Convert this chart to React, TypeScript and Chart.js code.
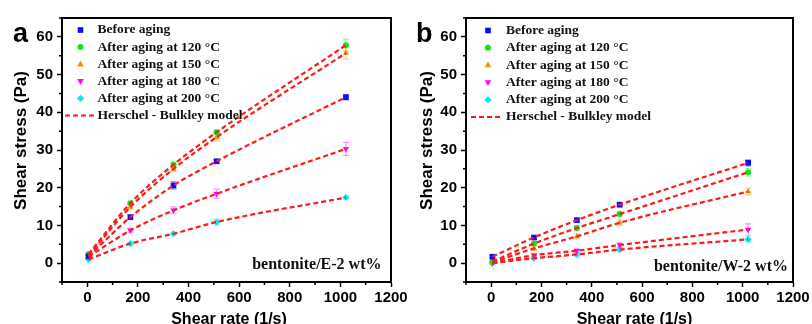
import React, { useEffect, useRef } from 'react';
import { Chart, registerables } from 'chart.js';

Chart.register(...registerables);

// ---------- data ----------
const shearRate = [5.11, 170.3, 340.6, 510.9, 1021.8];
const seriesNames = [
  'Before aging',
  'After aging at 120 °C',
  'After aging at 150 °C',
  'After aging at 180 °C',
  'After aging at 200 °C',
];
const modelName = 'Herschel - Bulkley model';
const xTicks = [0, 200, 400, 600, 800, 1000, 1200];
const xMinorTicks = [-100, 100, 300, 500, 700, 900, 1100];
const yTicks = [0, 10, 20, 30, 40, 50, 60];
const yMinorTicks = [-5, 5, 15, 25, 35, 45, 55, 65];

// panel a: bentonite/E-2 wt%
const aBefore = [1.8, 12.2, 20.6, 27.0, 44.0];
const a120 = [2.4, 15.9, 26.1, 34.7, 57.8];
const a150 = [2.0, 14.9, 25.0, 33.4, 55.7];
const a180 = [1.7, 8.7, 14.0, 18.4, 30.3];
const a200 = [1.0, 5.2, 7.8, 10.9, 17.4];
const aBeforeErr = [0.4, 0.5, 1.0, 0.5, 0.7];
const a120Err = [0.4, 0.5, 0.6, 0.6, 1.6];
const a150Err = [0.4, 0.6, 0.7, 1.0, 1.6];
const a180Err = [0.3, 0.5, 0.9, 1.2, 1.7];
const a200Err = [0.3, 0.4, 0.4, 0.7, 0.5];

// panel b: bentonite/W-2 wt%
const bBefore = [1.7, 6.8, 11.4, 15.5, 26.6];
const b120 = [0.4, 5.2, 9.3, 13.0, 24.1];
const b150 = [0.2, 3.9, 7.1, 10.7, 19.0];
const b180 = [0.0, 2.1, 3.3, 4.8, 8.9];
const b200 = [0.0, 1.3, 2.3, 3.6, 6.3];
const bBeforeErr = [0.4, 0.4, 0.5, 0.5, 0.8];
const b120Err = [0.4, 0.5, 0.6, 0.6, 1.0];
const b150Err = [0.3, 0.5, 0.7, 0.7, 0.9];
const b180Err = [0.3, 0.4, 0.5, 0.6, 1.5];
const b200Err = [0.3, 0.3, 0.5, 0.5, 0.6];

// ---------- styles ----------
const colors = ['#0a0aff', '#11e611', '#ff8c00', '#ff00ff', '#00eaff'];
const errColors = ['rgba(10,10,255,0.45)', 'rgba(17,230,17,0.45)', 'rgba(255,140,0,0.45)', 'rgba(255,0,255,0.45)', 'rgba(0,234,255,0.45)'];
const pointStyles = ['rect', 'circle', 'triangle', 'triangle', 'rectRot'];
const pointRotations = [0, 0, 0, 180, 0];
const pointRadii = [4, 3, 3.6, 3.6, 3.6];
const fitColor = '#ff1a1a';
const SANS = '"Liberation Sans", Arial, sans-serif';
const SERIF = '"Liberation Serif", "Times New Roman", serif';

type PanelProps = {
  letter: string;
  series: number[][];
  errors: number[][];
  note: string;
  left: number;
  canvasWidth: number;
  axisWidth: number;
  padRight: number;
  legendSymX: number;
  legendTextX: number;
  legendLineX0: number;
  legendLineX1: number;
  legendY0: number;
  legendDy: number;
  noteRight: number;
  noteY: number;
  xTitleX: number;
};

const CANVAS_H = 340;
const PLOT_TOP = 18;
const PLOT_BOTTOM = 282;

function drawSymbol(ctx: CanvasRenderingContext2D, i: number, x: number, y: number) {
  ctx.save();
  ctx.fillStyle = colors[i];
  ctx.beginPath();
  if (i === 0) {
    ctx.rect(x - 2.8, y - 2.8, 5.6, 5.6);
  } else if (i === 1) {
    ctx.arc(x, y, 3, 0, Math.PI * 2);
  } else if (i === 2) {
    ctx.moveTo(x, y - 3.6);
    ctx.lineTo(x + 3.3, y + 2.2);
    ctx.lineTo(x - 3.3, y + 2.2);
    ctx.closePath();
  } else if (i === 3) {
    ctx.moveTo(x, y + 3.6);
    ctx.lineTo(x + 3.3, y - 2.2);
    ctx.lineTo(x - 3.3, y - 2.2);
    ctx.closePath();
  } else {
    ctx.moveTo(x, y - 3.6);
    ctx.lineTo(x + 3.6, y);
    ctx.lineTo(x, y + 3.6);
    ctx.lineTo(x - 3.6, y);
    ctx.closePath();
  }
  ctx.fill();
  ctx.restore();
}

function Panel(p: PanelProps) {
  const ref = useRef<HTMLCanvasElement | null>(null);

  useEffect(() => {
    const canvas = ref.current;
    if (!canvas) return;
    const n = p.series.length;

    const fitSets = p.series.map((vals, i) => ({
      label: modelName + ' ' + i,
      data: shearRate.map((x, j) => ({ x, y: vals[j] })),
      showLine: true,
      borderColor: fitColor,
      backgroundColor: fitColor,
      borderWidth: 2.2,
      borderDash: [5, 3],
      pointRadius: 0,
      cubicInterpolationMode: 'monotone' as const,
      fill: false,
      order: 0,
    }));
    const markerSets = p.series.map((vals, i) => ({
      label: seriesNames[i],
      data: shearRate.map((x, j) => ({ x, y: vals[j] })),
      showLine: false,
      pointStyle: pointStyles[i],
      rotation: pointRotations[i],
      pointRotation: pointRotations[i],
      pointRadius: pointRadii[i],
      backgroundColor: colors[i],
      borderColor: colors[i],
      borderWidth: 0,
      order: 1,
    }));

    const panelPlugin = {
      id: 'panelDecor',
      beforeDatasetsDraw(chart: any) {
        const ctx: CanvasRenderingContext2D = chart.ctx;
        const yScale = chart.scales.y;
        ctx.save();
        ctx.lineWidth = 1.2;
        for (let i = 0; i < n; i++) {
          const meta = chart.getDatasetMeta(n + i);
          ctx.strokeStyle = errColors[i];
          meta.data.forEach((el: any, j: number) => {
            const v = p.series[i][j];
            const e = p.errors[i][j];
            const yt = yScale.getPixelForValue(v + e);
            const yb = yScale.getPixelForValue(v - e);
            ctx.beginPath();
            ctx.moveTo(el.x, yt);
            ctx.lineTo(el.x, yb);
            ctx.moveTo(el.x - 3, yt);
            ctx.lineTo(el.x + 3, yt);
            ctx.moveTo(el.x - 3, yb);
            ctx.lineTo(el.x + 3, yb);
            ctx.stroke();
          });
        }
        ctx.restore();
      },
      afterDraw(chart: any) {
        const ctx: CanvasRenderingContext2D = chart.ctx;
        const a = chart.chartArea;
        const xs = chart.scales.x;
        const ys = chart.scales.y;
        ctx.save();
        // frame top & right
        ctx.strokeStyle = '#000';
        ctx.lineWidth = 2;
        ctx.beginPath();
        ctx.moveTo(a.left, a.top);
        ctx.lineTo(a.right, a.top);
        ctx.lineTo(a.right, a.bottom);
        ctx.stroke();
        // minor ticks
        ctx.lineWidth = 1.5;
        ctx.beginPath();
        yMinorTicks.forEach((v) => {
          const y = ys.getPixelForValue(v);
          ctx.moveTo(a.left - 3, y);
          ctx.lineTo(a.left, y);
        });
        xMinorTicks.forEach((v) => {
          const x = xs.getPixelForValue(v);
          ctx.moveTo(x, a.bottom);
          ctx.lineTo(x, a.bottom + 3);
        });
        ctx.stroke();

        // legend
        ctx.font = `bold 13.5px ${SERIF}`;
        ctx.textBaseline = 'middle';
        ctx.textAlign = 'left';
        ctx.fillStyle = '#111';
        for (let i = 0; i < n; i++) {
          const y = p.legendY0 + i * p.legendDy;
          drawSymbol(ctx, i, p.legendSymX, y);
          ctx.fillStyle = '#111';
          ctx.fillText(seriesNames[i], p.legendTextX, y);
        }
        const ly = p.legendY0 + n * p.legendDy;
        ctx.strokeStyle = fitColor;
        ctx.lineWidth = 2.2;
        ctx.setLineDash([5, 3]);
        ctx.beginPath();
        ctx.moveTo(p.legendLineX0, ly);
        ctx.lineTo(p.legendLineX1, ly);
        ctx.stroke();
        ctx.setLineDash([]);
        ctx.fillText(modelName, p.legendTextX, ly);

        // note
        ctx.font = `bold 16px ${SERIF}`;
        ctx.textAlign = 'right';
        ctx.fillText(p.note, p.noteRight, p.noteY);

        // panel letter
        ctx.font = `bold 27px ${SANS}`;
        ctx.textAlign = 'left';
        ctx.textBaseline = 'alphabetic';
        ctx.fillStyle = '#000';
        ctx.fillText(p.letter, p.letter === 'a' ? 13 : 10, 42);

        // axis titles
        ctx.font = `bold 16px ${SANS}`;
        ctx.textAlign = 'center';
        ctx.fillText('Shear rate (1/s)', p.xTitleX, 323.5);
        ctx.save();
        ctx.translate(25.5, 140.5);
        ctx.rotate(-Math.PI / 2);
        ctx.font = `bold 17px ${SANS}`;
        ctx.fillText('Shear stress (Pa)', 0, 0);
        ctx.restore();
        ctx.restore();
      },
    };

    const tickFont = { family: SANS, size: 15, weight: 'bold' as const };
    const chart = new Chart(canvas, {
      type: 'scatter',
      data: { datasets: [...fitSets, ...markerSets] as any },
      options: {
        responsive: false,
        animation: false,
        events: [],
        layout: { padding: { left: 0, right: p.padRight, top: PLOT_TOP, bottom: 0 } },
        plugins: { legend: { display: false }, tooltip: { enabled: false } },
        scales: {
          x: {
            type: 'linear',
            min: -100,
            max: 1200,
            afterBuildTicks: (s: any) => {
              s.ticks = xTicks.map((v) => ({ value: v }));
            },
            afterFit: (s: any) => {
              s.height = CANVAS_H - PLOT_BOTTOM;
            },
            grid: { drawOnChartArea: false, drawTicks: true, tickLength: 5, tickWidth: 1.5, tickColor: '#000' },
            border: { display: true, color: '#000', width: 2 },
            ticks: {
              color: '#000',
              font: tickFont,
              padding: 2,
              maxRotation: 0,
              autoSkip: false,
              callback: (v: any) => String(v),
            },
          },
          y: {
            type: 'linear',
            min: -5,
            max: 65,
            afterBuildTicks: (s: any) => {
              s.ticks = yTicks.map((v) => ({ value: v }));
            },
            afterFit: (s: any) => {
              s.width = p.axisWidth;
            },
            grid: { drawOnChartArea: false, drawTicks: true, tickLength: 5, tickWidth: 1.5, tickColor: '#000' },
            border: { display: true, color: '#000', width: 2 },
            ticks: {
              color: '#000',
              font: tickFont,
              padding: 4,
              autoSkip: false,
              callback: (v: any) => String(v),
            },
          },
        },
      },
      plugins: [panelPlugin as any],
    });
    return () => chart.destroy();
  }, []);

  return (
    <canvas
      ref={ref}
      width={p.canvasWidth}
      height={CANVAS_H}
      style={{ position: 'absolute', left: p.left, top: 0, width: p.canvasWidth, height: CANVAS_H, display: 'block' }}
    />
  );
}

export default function App() {
  return (
    <div style={{ position: 'fixed', left: 0, top: 0, width: 812, height: 324, overflow: 'hidden', background: '#fff' }}>
      <Panel
        letter="a"
        series={[aBefore, a120, a150, a180, a200]}
        errors={[aBeforeErr, a120Err, a150Err, a180Err, a200Err]}
        note="bentonite/E-2 wt%"
        left={0}
        canvasWidth={420}
        axisWidth={62}
        padRight={29}
        legendSymX={80.5}
        legendTextX={97.5}
        legendLineX0={65}
        legendLineX1={95}
        legendY0={30}
        legendDy={17.1}
        noteRight={381.5}
        noteY={265}
        xTitleX={229}
      />
      <Panel
        letter="b"
        series={[bBefore, b120, b150, b180, b200]}
        errors={[bBeforeErr, b120Err, b150Err, b180Err, b200Err]}
        note="bentonite/W-2 wt%"
        left={406}
        canvasWidth={406}
        axisWidth={60}
        padRight={19}
        legendSymX={82}
        legendTextX={100}
        legendLineX0={65}
        legendLineX1={97}
        legendY0={30.5}
        legendDy={17.3}
        noteRight={382}
        noteY={267}
        xTitleX={228.5}
      />
    </div>
  );
}
